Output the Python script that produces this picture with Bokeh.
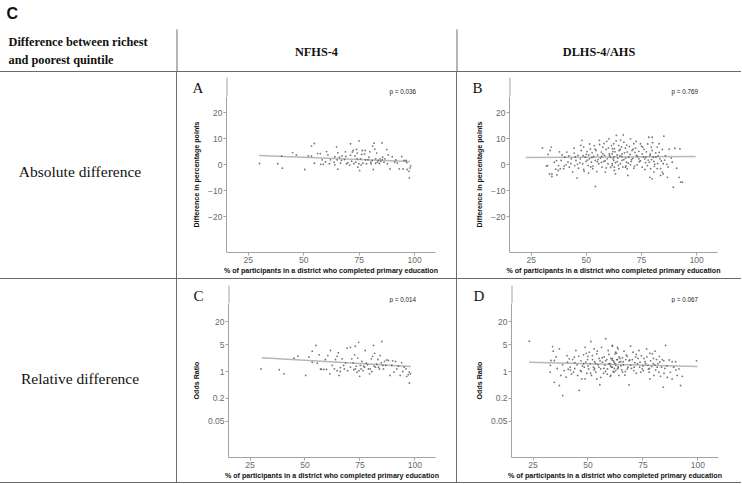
from bokeh.plotting import figure
from bokeh.layouts import column, row
from bokeh.models import Range1d, FixedTicker, CustomJSTickFormatter, Spacer
from bokeh.core.properties import value
from bokeh.embed import file_html
from bokeh.resources import INLINE

# ---------------- data ----------------
x_ticks = [25, 50, 75, 100]
abs_ticks = [-20, -10, 0, 10, 20]
or_ticks = [0.05, 0.2, 1, 5, 20]

col_headers = ["NFHS-4", "DLHS-4/AHS"]
row_headers = ["Absolute difference", "Relative difference"]
corner_lines = ["Difference between richest", "and poorest quintile"]
panel_letters = ["A", "B", "C", "D"]
p_values = ["p = 0.036", "p = 0.769", "p = 0.014", "p = 0.067"]

# Panel A: NFHS-4, absolute difference (percentage points)
a_x = [30.1, 38.3, 40.4, 40.1, 45.0, 46.7, 50.5, 53.5, 54.8, 52.0, 53.5, 54.8, 56.3, 57.5, 57.7,
       58.8, 60.3, 60.9, 59.8, 61.6, 63.7, 64.0, 64.8, 65.4, 66.1, 64.0, 65.4, 66.6, 67.3, 68.4,
       69.0, 69.9, 71.1, 71.1, 71.6, 72.3, 72.6, 73.1, 73.8, 74.1, 74.4, 74.9, 75.2, 75.6, 76.1,
       76.7, 77.4, 77.9, 78.3, 79.4, 79.8, 80.2, 81.1, 81.4, 81.7, 82.0, 82.4, 82.9, 83.2, 84.1,
       84.4, 85.3, 85.6, 86.2, 87.4, 88.1, 88.9, 89.9, 91.5, 92.2, 93.1, 94.2, 95.2, 96.4, 96.7,
       97.5, 97.9, 98.2, 97.6, 58.3, 62.1, 65.1, 67.0, 69.3, 70.7, 73.4, 74.9, 75.9, 79.0, 80.9,
       83.6, 84.7, 85.4, 86.6, 68.8, 71.9, 74.1, 76.4, 77.7, 80.4, 82.4, 87.7, 91.0, 94.8, 96.1]
a_y = [0.5, 0.4, -1.3, 3.3, 4.7, 3.8, -1.8, 7.2, 8.2, 3.4, 3.3, 0.6, 4.3, 4.3, 0.2,
       0.2, 5.1, 3.8, 1.1, 0.4, 1.0, 3.1, 6.9, 4.6, 2.9, 0.0, -1.7, 0.6, 3.4, 2.0,
       3.2, 0.8, 8.1, 3.7, 1.4, 5.5, 0.4, 3.4, 5.9, 4.5, -0.9, 9.2, -2.2, 2.3, 4.0,
       0.6, 4.2, 1.9, 0.4, 2.9, 5.0, 1.0, 7.2, -1.8, 8.3, 6.0, 2.3, 4.5, 1.0, 0.5,
       2.3, 8.4, 2.9, 1.0, 5.9, 3.8, -1.6, 3.1, 1.9, 0.6, -1.6, 3.2, 1.7, 0.8, -1.8,
       -2.5, -1.2, -0.4, -5.0, 1.9, 1.9, 1.9, 1.7, 0.4, -0.1, 1.0, 0.4, -0.1, 1.9, 1.7,
       1.7, 1.3, 1.9, 2.3, 5.0, 4.9, 2.3, 5.5, 5.5, 0.4, 0.6, 0.4, 1.0, -1.6, 1.7]
a_fit_x = [29.9, 97.8]
a_fit_y = [3.6, 1.3]

# Panel B: DLHS-4/AHS, absolute difference
b_x = [34.1, 33.6, 32.4, 34.4, 36.7, 37.4, 38.2, 38.6, 39.7, 40.2, 41.2, 41.7, 42.3, 43.2, 43.8,
       44.4, 44.7, 45.3, 45.8, 46.2, 46.5, 47.3, 47.7, 48.0, 48.3, 48.8, 48.8, 49.5, 49.9, 50.3,
       50.8, 51.1, 51.4, 51.8, 52.3, 52.6, 52.9, 53.3, 53.6, 54.1, 54.1, 54.4, 54.8, 55.1, 55.6,
       55.9, 56.4, 56.8, 57.1, 57.4, 57.9, 58.3, 58.6, 58.9, 59.4, 59.8, 60.2, 60.4, 60.9, 61.4,
       61.7, 62.0, 62.4, 62.7,
       63.6, 66.7, 62.4, 64.7, 67.0, 62.7, 65.4, 67.7, 61.7, 63.9, 66.2, 68.5, 62.1, 64.2, 67.0,
       69.2, 63.2, 65.4, 68.2, 70.3, 62.7, 64.7, 67.7, 63.2, 68.8, 70.0, 71.5, 70.7, 72.3, 72.7,
       73.8, 74.5, 75.3, 76.1, 76.5, 76.8, 77.6, 78.3, 78.8, 79.1, 79.4, 79.8, 79.8, 80.3, 80.6,
       81.4, 82.1, 82.9, 83.3, 83.6, 84.4, 84.8, 85.1, 78.8, 79.8, 83.6, 84.8, 86.7, 88.5, 88.9,
       90.1, 90.9, 92.0, 92.4, 92.7, 89.4, 93.5, 82.1, 84.4, 80.6, 73.0, 75.3, 71.5, 70.0, 68.5,
       66.2, 61.7,
       30.1, 31.9, 32.7, 33.3, 34.4, 36.1, 37.3, 36.5,
       45.0, 47.0, 50.0, 52.0, 55.0, 57.0, 59.0, 60.0, 63.0, 64.5, 66.0, 68.0, 69.5, 71.0, 72.0,
       74.0, 75.5, 77.0, 78.0, 81.0, 82.5, 85.5, 87.0, 65.5, 58.0, 51.0, 43.0, 40.0,
       44.5, 46.0, 47.5, 48.5, 49.0, 50.5, 51.5, 52.5, 53.0, 54.0, 55.3, 56.0, 56.8, 57.5, 58.5,
       59.2, 60.5, 61.0, 61.8, 62.5, 63.5, 64.0, 64.8, 65.2, 66.0, 66.5, 67.3, 67.8, 68.3, 69.0,
       69.8, 70.5, 71.2, 71.8, 72.5, 73.2, 73.8, 74.5, 75.0, 75.8, 76.5, 77.2, 77.8, 78.5, 79.0,
       79.5, 80.0, 80.8, 81.5, 82.3, 83.0, 84.0, 85.8, 86.5, 87.5, 42.0, 40.8, 39.0, 37.8, 35.5]
b_y = [6.8, 5.5, -0.3, -3.5, -3.9, -0.3, -1.5, 1.7, -1.5, 2.9, 4.9, 1.0, -0.9, 2.3, -2.8,
       6.4, -0.3, 1.7, -5.1, 3.6, -1.3, 2.3, 5.5, 9.4, 0.4, 6.8, -1.8, 2.9, 1.3, 5.1,
       -0.3, 3.8, 2.3, 6.1, 1.0, 4.6, -1.5, 3.2, 7.4, -8.3, 1.7, 5.5, -2.6, 3.8, 0.4,
       9.4, 2.6, 4.9, -0.9, 6.8, 1.3, 3.6, -2.8, 5.9, 2.3, 0.4, 10.0, 4.2, 2.9, 7.4,
       -0.3, 5.1, 1.7, -2.2,
       11.3, 11.5, 8.1, 7.4, 8.7, 6.1, 5.9, 6.4, 4.2, 3.8, 4.2, 4.9, 2.3, 2.6, 2.0,
       2.9, 0.8, 0.4, 1.0, 1.3, -0.9, -1.5, -0.9, -3.5, -4.1, 10.0, 8.1, 5.5, 6.4, 3.6,
       2.3, 8.1, 4.2, 5.9, 2.3, 0.8, -0.3, 10.6, 3.6, -1.5, 6.8, 5.5, 10.6, 2.9, 1.3,
       4.6, 6.8, 8.1, 2.3, -1.5, 5.9, 0.4, 11.0, -4.8, -5.4, -4.1, -3.5, -4.8, 2.6, 1.0,
       6.4, -1.3, -4.8, 6.1, -6.7, -8.6, -6.7, -1.5, -2.8, -2.8, 0.0, -0.9, -1.3, 0.0, -1.5,
       1.7, 0.4,
       6.5, -0.5, 4.0, -3.5, -4.5, -1.7, -2.2, 1.6,
       3.0, 0.8, 4.0, -0.8, 1.2, 3.2, -1.2, 6.5, 5.0, -0.2, 3.2, -0.4, 7.0, 2.5, 4.8,
       1.2, 6.8, 3.0, 1.8, 0.2, 3.4, 1.8, -0.8, 9.5, 8.2, -3.2, 0.5, -0.5,
       4.5, 0.2, 7.5, 3.5, -2.5, 1.8, 8.0, 2.8, -0.5, 6.0, 2.0, 7.8, 0.9, 4.2, 1.5,
       9.0, 3.5, -1.0, 6.2, 3.0, 9.2, 1.2, 5.5, 3.5, 6.8, -0.8, 4.6, 2.6, 7.6, 0.6,
       4.0, 2.0, 6.0, -0.5, 9.0, 3.2, 5.2, 1.5, 7.2, 3.0, -1.8, 5.0, 8.0, 1.0, 4.2,
       2.0, 8.5, -0.6, 3.0, 0.5, 4.8, 1.5, 3.5, 0.2, 6.0, 3.4, 0.0, 3.8, 5.0, 1.0]
b_fit_x = [22.6, 99.5]
b_fit_y = [2.8, 3.2]

# Panel C: NFHS-4, relative difference (odds ratio)
c_x = [30.0, 38.3, 40.5, 45.0, 46.8, 50.3, 53.3, 55.0, 51.8, 53.3, 55.6, 56.5, 57.5, 58.6, 59.8,
       60.4, 61.6, 61.3, 63.4, 63.9, 64.6, 65.2, 65.5, 66.1, 66.9, 67.6, 68.5, 69.2, 70.7, 71.3,
       72.2, 72.6, 72.9, 73.4, 73.7, 74.0, 74.4, 74.9, 75.5, 75.9, 76.7, 77.4, 77.9, 78.9, 79.4,
       80.2, 80.8, 81.2, 81.7, 82.1, 82.7, 83.2, 83.9, 84.2, 85.0, 85.4, 86.2, 87.2, 88.0, 88.7,
       89.9, 91.2, 91.8, 93.3, 94.0, 95.1, 96.0, 96.3, 97.0, 97.5, 98.0, 97.5, 57.1, 59.3, 62.4,
       64.6, 66.1, 67.9, 69.4, 70.7, 71.9, 72.9, 74.6, 75.2, 76.4, 77.1, 78.5, 79.7, 80.4, 81.5,
       83.5, 84.7, 85.7, 86.8, 89.5, 90.5, 92.5, 94.5]
c_y = [1.17, 1.11, 0.87, 2.23, 2.52, 0.79, 3.4, 4.8, 2.37, 1.75, 1.65, 2.73, 1.13, 1.13, 1.13,
       2.62, 3.55, 0.87, 1.17, 2.06, 2.5, 3.1, 0.79, 1.27, 2.15, 1.44, 1.69, 4.07, 4.3, 2.15,
       1.11, 2.73, 4.6, 1.38, 0.96, 2.25, 5.8, 0.75, 1.17, 1.83, 1.38, 3.55, 1.65, 1.17, 0.87,
       2.15, 2.5, 4.8, 3.0, 1.3, 1.55, 2.06, 1.17, 2.62, 6.1, 1.44, 1.83, 2.0, 1.95, 0.79,
       1.9, 1.83, 1.17, 0.79, 1.69, 1.3, 1.17, 0.75, 0.83, 0.96, 0.87, 0.50, 1.17, 2.06, 1.44,
       1.05, 1.0, 1.17, 1.05, 1.3, 1.69, 1.17, 1.05, 1.44, 1.05, 1.3, 1.5, 1.17, 1.0, 1.38,
       1.3, 1.69, 1.17, 1.44, 1.44, 0.96, 1.38, 1.0]
c_fit_x = [30.3, 98.2]
c_fit_y = [2.29, 1.35]

# Panel D: DLHS-4/AHS, relative difference (odds ratio)
d_x = [23.3, 33.9, 34.2, 37.0, 32.9, 34.7, 34.7, 37.0, 38.5, 37.7, 39.2, 40.0, 40.7, 41.5, 41.9,
       43.0, 43.4, 43.8, 44.5, 45.0, 45.3, 46.0, 46.5, 46.8, 47.2, 48.0, 48.3, 48.7, 48.7, 49.0,
       49.5, 49.8, 50.3, 50.6, 51.0, 51.3, 51.6, 52.1, 52.5, 52.8, 53.1, 53.6, 54.0, 54.0, 54.6,
       55.1, 55.4, 55.8, 56.2, 56.6, 57.1, 57.4, 57.7, 58.1, 58.6, 58.9, 59.2, 59.6, 60.1, 60.4,
       60.7, 61.1, 61.6, 61.9, 62.3, 62.7, 63.1, 63.4, 63.7, 64.2,
       61.1, 63.4, 62.6, 61.1, 64.1, 66.4, 67.2, 61.9, 64.9, 68.7, 61.1, 63.7, 66.1, 69.4, 62.6,
       65.7, 67.9, 60.4, 64.1, 68.7, 69.4, 71.7, 73.2, 73.7, 74.7, 75.5, 76.7, 77.3, 77.8, 78.2,
       78.5, 79.3, 79.7, 80.0, 80.5, 81.2, 81.5, 82.3, 82.7, 83.0, 83.8, 84.6, 85.3, 84.3, 86.1,
       88.3, 89.9, 90.6, 91.4, 92.1, 92.9, 88.3, 99.4, 74.0, 70.9, 72.5, 70.2, 67.9, 65.7, 76.2,
       63.4,
       32.8, 33.2, 42.0, 44.0, 47.5, 50.0, 53.0, 55.5, 58.0, 60.0, 62.0, 65.0, 67.0, 71.0, 72.0,
       75.0, 78.0, 80.5, 85.0, 87.0,
       44.0, 45.8, 47.0, 48.0, 49.2, 50.0, 51.2, 52.0, 52.8, 53.5, 54.3, 55.0, 55.8, 56.5, 57.2,
       58.0, 58.8, 59.5, 60.3, 61.0, 61.5, 62.3, 63.0, 63.8, 64.5, 65.3, 66.0, 66.8, 67.5, 68.2,
       69.0, 69.8, 70.5, 71.3, 72.0, 72.8, 73.5, 74.3, 75.2, 76.0, 76.8, 77.5, 78.2, 79.0, 79.8,
       80.8, 81.8, 82.5, 83.5, 84.5, 86.0, 87.5, 89.0, 90.0, 38.5, 40.5, 42.5, 36.0, 35.5, 41.0]
d_y = [6.2, 4.5, 3.4, 3.9, 1.44, 1.94, 0.52, 0.43, 0.235, 0.79, 1.06, 0.71, 1.75, 2.15, 1.3,
       2.05, 0.96, 2.37, 3.55, 1.5, 0.79, 0.32, 1.06, 1.9, 0.64, 2.73, 1.3, 4.3, 0.64, 1.75,
       0.9, 2.05, 1.17, 3.2, 1.6, 6.1, 0.79, 2.05, 1.3, 3.9, 1.8, 0.96, 2.9, 0.64, 1.5,
       2.2, 0.45, 1.17, 4.3, 1.75, 0.9, 2.4, 1.45, 7.2, 2.05, 1.17, 3.55, 1.6, 0.75, 2.2,
       1.3, 4.8, 1.9, 0.96, 2.9, 1.45, 2.05, 1.17, 3.9, 1.75,
       4.6, 4.3, 3.2, 2.2, 2.4, 3.4, 2.05, 1.75, 1.8, 1.9, 1.3, 1.35, 1.5, 1.45, 1.06,
       0.96, 1.17, 0.79, 0.79, 0.45, 4.6, 2.4, 3.55, 1.75, 1.17, 2.2, 3.9, 1.45, 0.96, 0.64,
       1.9, 2.9, 1.6, 0.79, 3.4, 2.05, 1.3, 0.96, 1.75, 0.75, 2.05, 0.9, 4.8, 0.39, 0.7,
       1.8, 1.8, 0.79, 1.17, 0.43, 0.75, 0.64, 1.9, 0.96, 1.06, 1.6, 2.05, 2.5, 2.3, 1.6,
       2.05,
       0.96, 1.94, 1.1, 1.7, 1.4, 2.5, 1.2, 1.9, 1.0, 1.6, 1.2, 1.4, 1.0, 1.3, 2.8,
       1.4, 1.2, 1.5, 1.2, 2.0,
       1.2, 2.5, 1.0, 1.6, 3.0, 1.4, 0.9, 2.6, 1.1, 1.6, 3.4, 1.3, 0.7, 2.3, 1.2,
       1.9, 0.85, 2.8, 1.4, 2.0, 1.0, 1.6, 3.0, 1.25, 2.2, 1.1, 1.8, 0.8, 2.7, 1.3,
       2.0, 1.2, 3.2, 1.7, 0.9, 2.2, 1.3, 2.6, 1.05, 1.8, 2.4, 1.15, 3.0, 1.35, 2.2,
       1.1, 1.6, 2.5, 1.3, 1.9, 1.4, 0.95, 1.3, 1.1, 1.5, 2.6, 0.85, 1.2, 2.4, 1.15]
d_fit_x = [23.2, 99.8]
d_fit_y = [1.75, 1.35]

# ---------------- styling / layout ----------------
LINE = "#6a6a6a"
AXC = "#a3a3a3"
SERIF = "Liberation Serif"
SANS = "Liberation Sans"

TOTAL_W = 741
X_V1, X_V2 = 176, 456            # vertical table rules (page px)
Y_H1, Y_H2, Y_H3 = 71, 278, 482  # horizontal table rules (page px)
W_LEFT = X_V1
W_A = X_V2 - X_V1 - 1
W_B = TOTAL_W - X_V2 - 1
H_HEAD = Y_H1
H_ROW1 = Y_H2 - Y_H1 - 1
H_ROW2 = Y_H3 - Y_H2 - 1
STRIP = 24


def no_align(p):
    try:
        p.frame_align = False
    except Exception:
        pass
    return p


def blank(w, h, x0, x1, y0, y1):
    p = figure(width=w, height=h, x_range=Range1d(x0, x1), y_range=Range1d(y1, y0),
               x_axis_location=None, y_axis_location=None, toolbar_location=None,
               output_backend="svg", min_border=0)
    p.grid.visible = False
    p.outline_line_color = None
    return no_align(p)


def strip(x0, w, y0, axis_x, axis_top, letter, letter_x, ptext, p_x):
    s = blank(w, STRIP, x0, x0 + w, y0, y0 + STRIP)
    s.segment(x0=[axis_x + 0.5], y0=[axis_top], x1=[axis_x + 0.5], y1=[y0 + STRIP + 1],
              line_color=AXC, line_width=1)
    s.text(x=[letter_x], y=[axis_top + 10], text=[letter], text_font=value(SERIF),
           text_font_size="15px", text_baseline="middle", text_color="#111111")
    s.text(x=[p_x], y=[axis_top + 14], text=[ptext], text_font=value(SANS),
           text_font_size="6.3px", text_baseline="middle", text_color="#222222")
    return s


def make_plot(w, h, xs, ys, fx, fy, log, ylabel, borders):
    bl, br, bb = borders
    common = dict(width=w, height=h, x_range=Range1d(15.2, 109.4), toolbar_location=None,
                  output_backend="svg", min_border_left=bl, min_border_right=br,
                  min_border_top=0, min_border_bottom=bb)
    if log:
        p = figure(y_range=Range1d(10 ** -2.251, 10 ** 1.780), y_axis_type="log", **common)
        p.yaxis.ticker = FixedTicker(ticks=or_ticks)
        p.yaxis.formatter = CustomJSTickFormatter(code="return String(tick);")
    else:
        p = figure(y_range=Range1d(-33.73, 26.27), **common)
        p.yaxis.ticker = FixedTicker(ticks=abs_ticks)
        p.yaxis.formatter = CustomJSTickFormatter(
            code="return tick < 0 ? '\\u2212' + String(-tick) : String(tick);")
    p.xaxis.ticker = FixedTicker(ticks=x_ticks)
    p.grid.visible = False
    p.outline_line_color = None
    for ax in (p.xaxis[0], p.yaxis[0]):
        ax.axis_line_color = AXC
        ax.axis_line_width = 1
        ax.major_tick_line_color = AXC
        ax.major_tick_out = 3
        ax.major_tick_in = 0
        ax.minor_tick_line_color = None
        ax.major_label_text_font = SANS
        ax.major_label_text_font_size = "8.5px"
        ax.major_label_text_color = "#6a6a6a"
        ax.major_label_standoff = 1
        ax.axis_label_text_font = SANS
        ax.axis_label_text_font_style = "bold"
        ax.axis_label_text_font_size = "7.1px"
        ax.axis_label_text_color = "#111111"
    p.xaxis.axis_label = "% of participants in a district who completed primary education"
    p.xaxis.axis_label_standoff = 1
    p.yaxis.axis_label = ylabel
    p.yaxis.axis_label_standoff = 4

    p.line(fx, fy, line_color="#b8b8b8", line_width=1.5)
    p.scatter(xs, ys, size=1.8, fill_color="#484848", line_color=None, fill_alpha=0.75)
    return no_align(p)


# header
head = blank(TOTAL_W, H_HEAD, 0, TOTAL_W, 0, H_HEAD)
head.text(x=[6], y=[13], text=["C"], text_font=value(SANS), text_font_style="bold",
          text_font_size="16px", text_baseline="middle", text_color="#111111")
head.text(x=[8, 8], y=[41, 59], text=corner_lines, text_font=value(SERIF), text_font_style="bold",
          text_font_size="12.3px", text_baseline="middle", text_color="#111111")
head.text(x=[(X_V1 + X_V2) / 2, (X_V2 + TOTAL_W) / 2], y=[51, 51], text=col_headers,
          text_font=value(SERIF), text_font_style="bold", text_font_size="12.3px",
          text_align="center", text_baseline="middle", text_color="#111111")
head.segment(x0=[X_V1 + 0.5, X_V2 + 0.5], y0=[29, 29], x1=[X_V1 + 0.5, X_V2 + 0.5],
             y1=[H_HEAD + 1, H_HEAD + 1], line_color=LINE, line_width=1)

# left cells
left1 = blank(W_LEFT, H_ROW1, 0, W_LEFT, Y_H1 + 1, Y_H2)
left1.text(x=[79.5], y=[171], text=[row_headers[0]], text_font=value(SERIF), text_font_size="15.5px",
           text_align="center", text_baseline="middle", text_color="#111111")
left2 = blank(W_LEFT, H_ROW2, 0, W_LEFT, Y_H2 + 1, Y_H3)
left2.text(x=[79.5], y=[378], text=[row_headers[1]], text_font=value(SERIF), text_font_size="15.5px",
           text_align="center", text_baseline="middle", text_color="#111111")

xa0, xb0 = X_V1 + 1, X_V2 + 1
r1, r2 = Y_H1 + 1, Y_H2 + 1

sA = strip(xa0, W_A, r1, 226, 77, panel_letters[0], 192, p_values[0], 389)
pA = make_plot(W_A, H_ROW1 - STRIP, a_x, a_y, a_fit_x, a_fit_y, False,
               "Difference in percentage points", (226 - xa0, xa0 + W_A - 435, 26))
sB = strip(xb0, W_B, r1, 509, 77, panel_letters[1], 472, p_values[1], 671)
pB = make_plot(W_B, H_ROW1 - STRIP, b_x, b_y, b_fit_x, b_fit_y, False,
               "Difference in percentage points", (509 - xb0, xb0 + W_B - 717, 26))
sC = strip(xa0, W_A, r2, 228, 285, panel_letters[2], 193, p_values[2], 389)
pC = make_plot(W_A, H_ROW2 - STRIP, c_x, c_y, c_fit_x, c_fit_y, True,
               "Odds Ratio", (228 - xa0, xa0 + W_A - 435, 25))
sD = strip(xb0, W_B, r2, 511, 285, panel_letters[3], 473, p_values[3], 671)
pD = make_plot(W_B, H_ROW2 - STRIP, d_x, d_y, d_fit_x, d_fit_y, True,
               "Odds Ratio", (511 - xb0, xb0 + W_B - 718, 25))


def vsep(h):
    return Spacer(width=1, height=h, styles={"background-color": LINE})


def hsep(w):
    return Spacer(width=w, height=1, styles={"background-color": LINE})


layout = column(
    head,
    hsep(TOTAL_W),
    row(left1, vsep(H_ROW1), column(sA, pA), vsep(H_ROW1), column(sB, pB)),
    hsep(TOTAL_W),
    row(left2, vsep(H_ROW2), column(sC, pC), vsep(H_ROW2), column(sD, pD)),
    hsep(TOTAL_W),
)

open("out.html", "w").write(file_html(layout, INLINE))
